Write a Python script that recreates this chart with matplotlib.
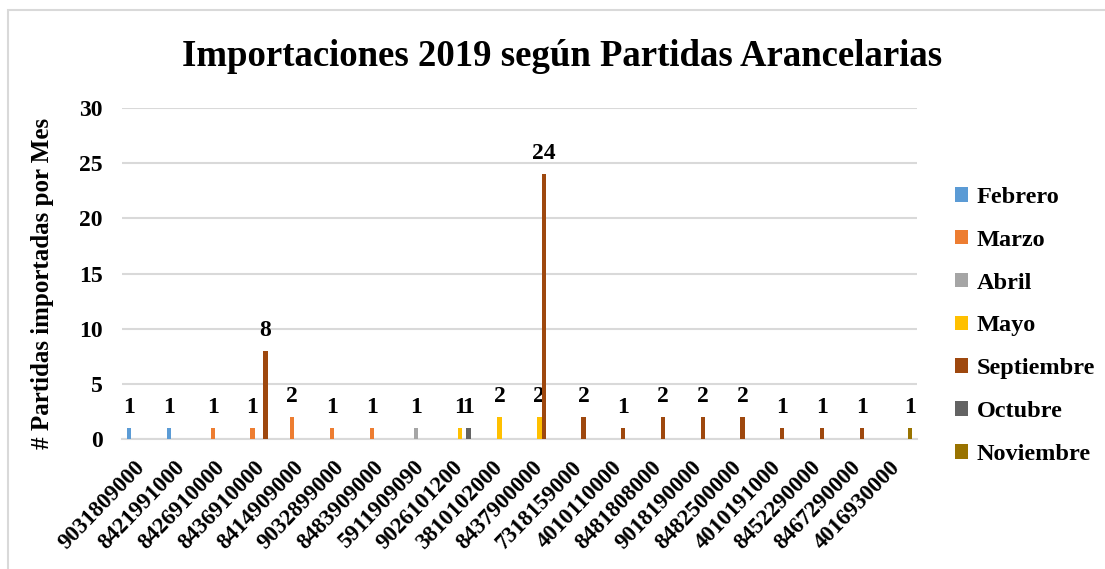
import numpy as np
import matplotlib.pyplot as plt
from matplotlib.patches import Rectangle

# partidas arancelarias (eje x)
partidas = ['9031809000', '8421991000', '8426910000', '8436910000', '8414909000',
            '9032899000', '8483909000', '5911909090', '9026101200', '3810102000',
            '8437900000', '7318159000', '4010110000', '8481808000', '9018190000',
            '8482500000', '4010191000', '8452290000', '8467290000', '4016930000']

meses = ['Febrero', 'Marzo', 'Abril', 'Mayo', 'Septiembre', 'Octubre', 'Noviembre']
colores = ['#5B9BD5', '#ED7D31', '#A5A5A5', '#FFC000', '#9E480E', '#636363', '#997300']

# cantidades por mes (0 = sin importacion)
febrero    = [1, 1, 0, 0, 0, 0, 0, 0, 0, 0, 0, 0, 0, 0, 0, 0, 0, 0, 0, 0]
marzo      = [0, 0, 1, 1, 2, 1, 1, 0, 0, 0, 0, 0, 0, 0, 0, 0, 0, 0, 0, 0]
abril      = [0, 0, 0, 0, 0, 0, 0, 1, 0, 0, 0, 0, 0, 0, 0, 0, 0, 0, 0, 0]
mayo       = [0, 0, 0, 0, 0, 0, 0, 0, 1, 2, 2, 0, 0, 0, 0, 0, 0, 0, 0, 0]
septiembre = [0, 0, 0, 8, 0, 0, 0, 0, 0, 0, 24, 2, 1, 2, 2, 2, 1, 1, 1, 0]
octubre    = [0, 0, 0, 0, 0, 0, 0, 0, 1, 0, 0, 0, 0, 0, 0, 0, 0, 0, 0, 0]
noviembre  = [0, 0, 0, 0, 0, 0, 0, 0, 0, 0, 0, 0, 0, 0, 0, 0, 0, 0, 0, 1]

series = [febrero, marzo, abril, mayo, septiembre, octubre, noviembre]

plt.rcParams['font.family'] = 'Liberation Serif'
plt.rcParams['font.weight'] = 'bold'

fig = plt.figure(figsize=(11.05, 5.69), dpi=100)
ax = fig.add_axes([122/1105, 1 - 439/569, (917 - 122)/1105, (439 - 108)/569])

x = np.arange(len(partidas))
w = 0.108
for i, (mes, vals, c) in enumerate(zip(meses, series, colores)):
    vals = np.array(vals, dtype=float)
    pos = x + (i - 3) * w
    ax.bar(pos, vals, width=w, color=c, label=mes, zorder=3)
    for p, v in zip(pos, vals):
        if v > 0:
            ax.annotate(f'{int(v)}', (p, v), xytext=(0, 7), textcoords='offset points',
                        ha='center', va='bottom', fontsize=17, fontweight='bold')

ax.set_ylim(0, 30)
ax.set_xlim(-0.5, len(partidas) - 0.5)
ax.set_yticks(range(0, 31, 5))
ax.yaxis.grid(True, color='#D9D9D9', linewidth=1.5, zorder=0)
ax.set_axisbelow(True)
for s in ['top', 'right', 'left']:
    ax.spines[s].set_visible(False)
ax.spines['bottom'].set_color('#D9D9D9')
ax.spines['bottom'].set_linewidth(1.5)
ax.tick_params(axis='both', length=0, labelsize=17)
ax.tick_params(axis='y', pad=14)
ax.set_xticks(x)
ax.set_xticklabels(partidas, rotation=46, ha='right', rotation_mode='anchor', va='center')
ax.tick_params(axis='x', pad=18, labelsize=16.5)

ax.set_ylabel('# Partidas importadas por Mes', fontsize=18, fontweight='bold')
ax.yaxis.set_label_coords((54 - 122) / 795, 0.471)
fig.text(562/1105, 1 - 56/569, 'Importaciones 2019 según Partidas Arancelarias',
         ha='center', va='center', fontsize=26.5, fontweight='bold')

ax.legend(loc='center left', bbox_to_anchor=(945/1105, 1 - 326/569), bbox_transform=fig.transFigure,
          frameon=False, fontsize=17.5, handlelength=0.55, handleheight=0.55,
          handletextpad=0.35, labelspacing=0.9, borderaxespad=0)

fig.patches.append(Rectangle((8/1105, -0.1), 1.2, 1 - 10/569 + 0.1, transform=fig.transFigure,
                             fill=False, edgecolor='#D9D9D9', linewidth=1.5))

fig.savefig('out.png', dpi=100)
